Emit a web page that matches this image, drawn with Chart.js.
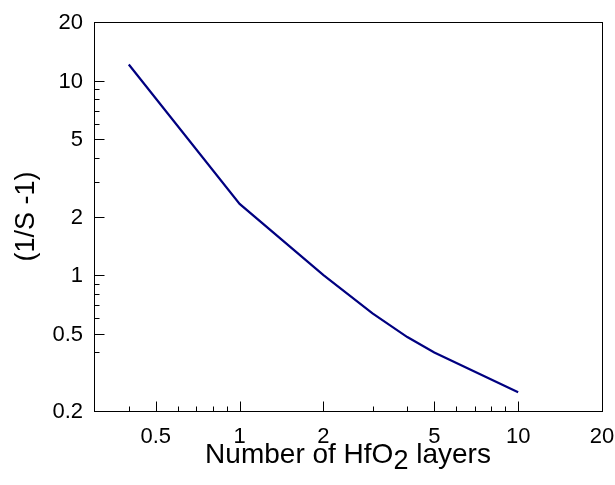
<!DOCTYPE html>
<html>
<head>
<meta charset="utf-8">
<script src="https://cdn.jsdelivr.net/npm/chart.js@4"></script>
<style>
  html, body { margin: 0; padding: 0; background: #fff; }
  canvas { display: block; }
</style>
</head>
<body>
<canvas id="chart" width="615" height="485"></canvas>
<script>
// layers of HfO2 vs (1/S - 1), log-log
const layers = [0.4, 1, 2, 3, 4, 5, 10];
const ratio = [12.1, 2.32, 1.0, 0.635, 0.48, 0.40, 0.25];

const xMajor = [0.5, 1, 2, 5, 10, 20];
const xMinor = [0.4, 0.6, 0.7, 0.8, 0.9, 3, 4, 6, 7, 8, 9];
const yMajor = [0.2, 0.5, 1, 2, 5, 10, 20];
const yMinor = [0.4, 0.6, 0.7, 0.8, 0.9, 3, 4, 6, 7, 8, 9];

const FONT = "'Liberation Sans', Arial, Helvetica, sans-serif";

// frame, inside ticks, tick labels and the x title with a subscript
const framePlugin = {
  id: "frame",
  afterDraw(chart) {
    const { ctx, chartArea: a, scales } = chart;
    const x = scales.x, y = scales.y;
    ctx.save();
    ctx.strokeStyle = "#000";
    ctx.lineWidth = 1;
    ctx.strokeRect(Math.round(a.left) + 0.5, Math.round(a.top) + 0.5,
      Math.round(a.right - a.left), Math.round(a.bottom - a.top));

    ctx.beginPath();
    const bottom = Math.round(a.bottom) + 0.5;
    const left = Math.round(a.left) + 0.5;
    xMajor.concat(xMinor).forEach((v) => {
      const len = xMajor.includes(v) ? 10 : 5;
      const px = Math.round(x.getPixelForValue(v)) + 0.5;
      if (px <= a.left + 1 || px >= a.right - 1) return;
      ctx.moveTo(px, bottom);
      ctx.lineTo(px, bottom - len);
    });
    yMajor.concat(yMinor).forEach((v) => {
      const len = yMajor.includes(v) ? 10 : 5;
      const py = Math.round(y.getPixelForValue(v)) + 0.5;
      if (py <= a.top + 1 || py >= a.bottom - 1) return;
      ctx.moveTo(left, py);
      ctx.lineTo(left + len, py);
    });
    ctx.stroke();

    // tick labels
    ctx.fillStyle = "#000";
    ctx.font = "22px " + FONT;
    ctx.textAlign = "center";
    ctx.textBaseline = "middle";
    xMajor.forEach((v) => {
      ctx.fillText(String(v), x.getPixelForValue(v), a.bottom + 26);
    });
    ctx.textAlign = "right";
    yMajor.forEach((v) => {
      ctx.fillText(String(v), a.left - 11, y.getPixelForValue(v) + 1);
    });

    // x axis title
    const big = "28px " + FONT;
    const small = "27px " + FONT;
    const p1 = "Number of HfO", p2 = "2", p3 = " layers";
    ctx.textAlign = "left";
    ctx.textBaseline = "alphabetic";
    ctx.font = big;
    const w1 = ctx.measureText(p1).width, w3 = ctx.measureText(p3).width;
    ctx.font = small;
    const w2 = ctx.measureText(p2).width;
    const cx = (a.left + a.right) / 2;
    let tx = cx - (w1 + w2 + w3) / 2;
    const base = 463;
    ctx.font = big;
    ctx.fillText(p1, tx, base);
    tx += w1;
    ctx.font = small;
    ctx.fillText(p2, tx, base + 6);
    tx += w2;
    ctx.font = big;
    ctx.fillText(p3, tx, base);
    ctx.restore();
  },
};

const ctx = document.getElementById("chart").getContext("2d");
new Chart(ctx, {
  type: "line",
  data: {
    datasets: [
      {
        data: layers.map((v, i) => ({ x: v, y: ratio[i] })),
        borderColor: "#000080",
        borderWidth: 2.2,
        pointRadius: 0,
        tension: 0,
        fill: false,
      },
    ],
  },
  options: {
    responsive: false,
    animation: false,
    layout: { padding: { top: 22, right: 13, left: 0, bottom: 0 } },
    plugins: {
      legend: { display: false },
      tooltip: { enabled: false },
    },
    scales: {
      x: {
        type: "logarithmic",
        min: 0.3,
        max: 20,
        grid: { display: false, drawTicks: false },
        border: { display: false },
        afterFit: (scale) => {
          scale.height = 74;
        },
        ticks: { display: false },
      },
      y: {
        type: "logarithmic",
        min: 0.2,
        max: 20,
        grid: { display: false, drawTicks: false },
        border: { display: false },
        afterFit: (scale) => {
          scale.width = 94;
        },
        title: {
          display: true,
          text: "(1/S -1)",
          color: "#000",
          font: { family: FONT, size: 27 },
          padding: { top: 10, bottom: 0 },
        },
        ticks: { display: false },
      },
    },
  },
  plugins: [framePlugin],
});
</script>
</body>
</html>
